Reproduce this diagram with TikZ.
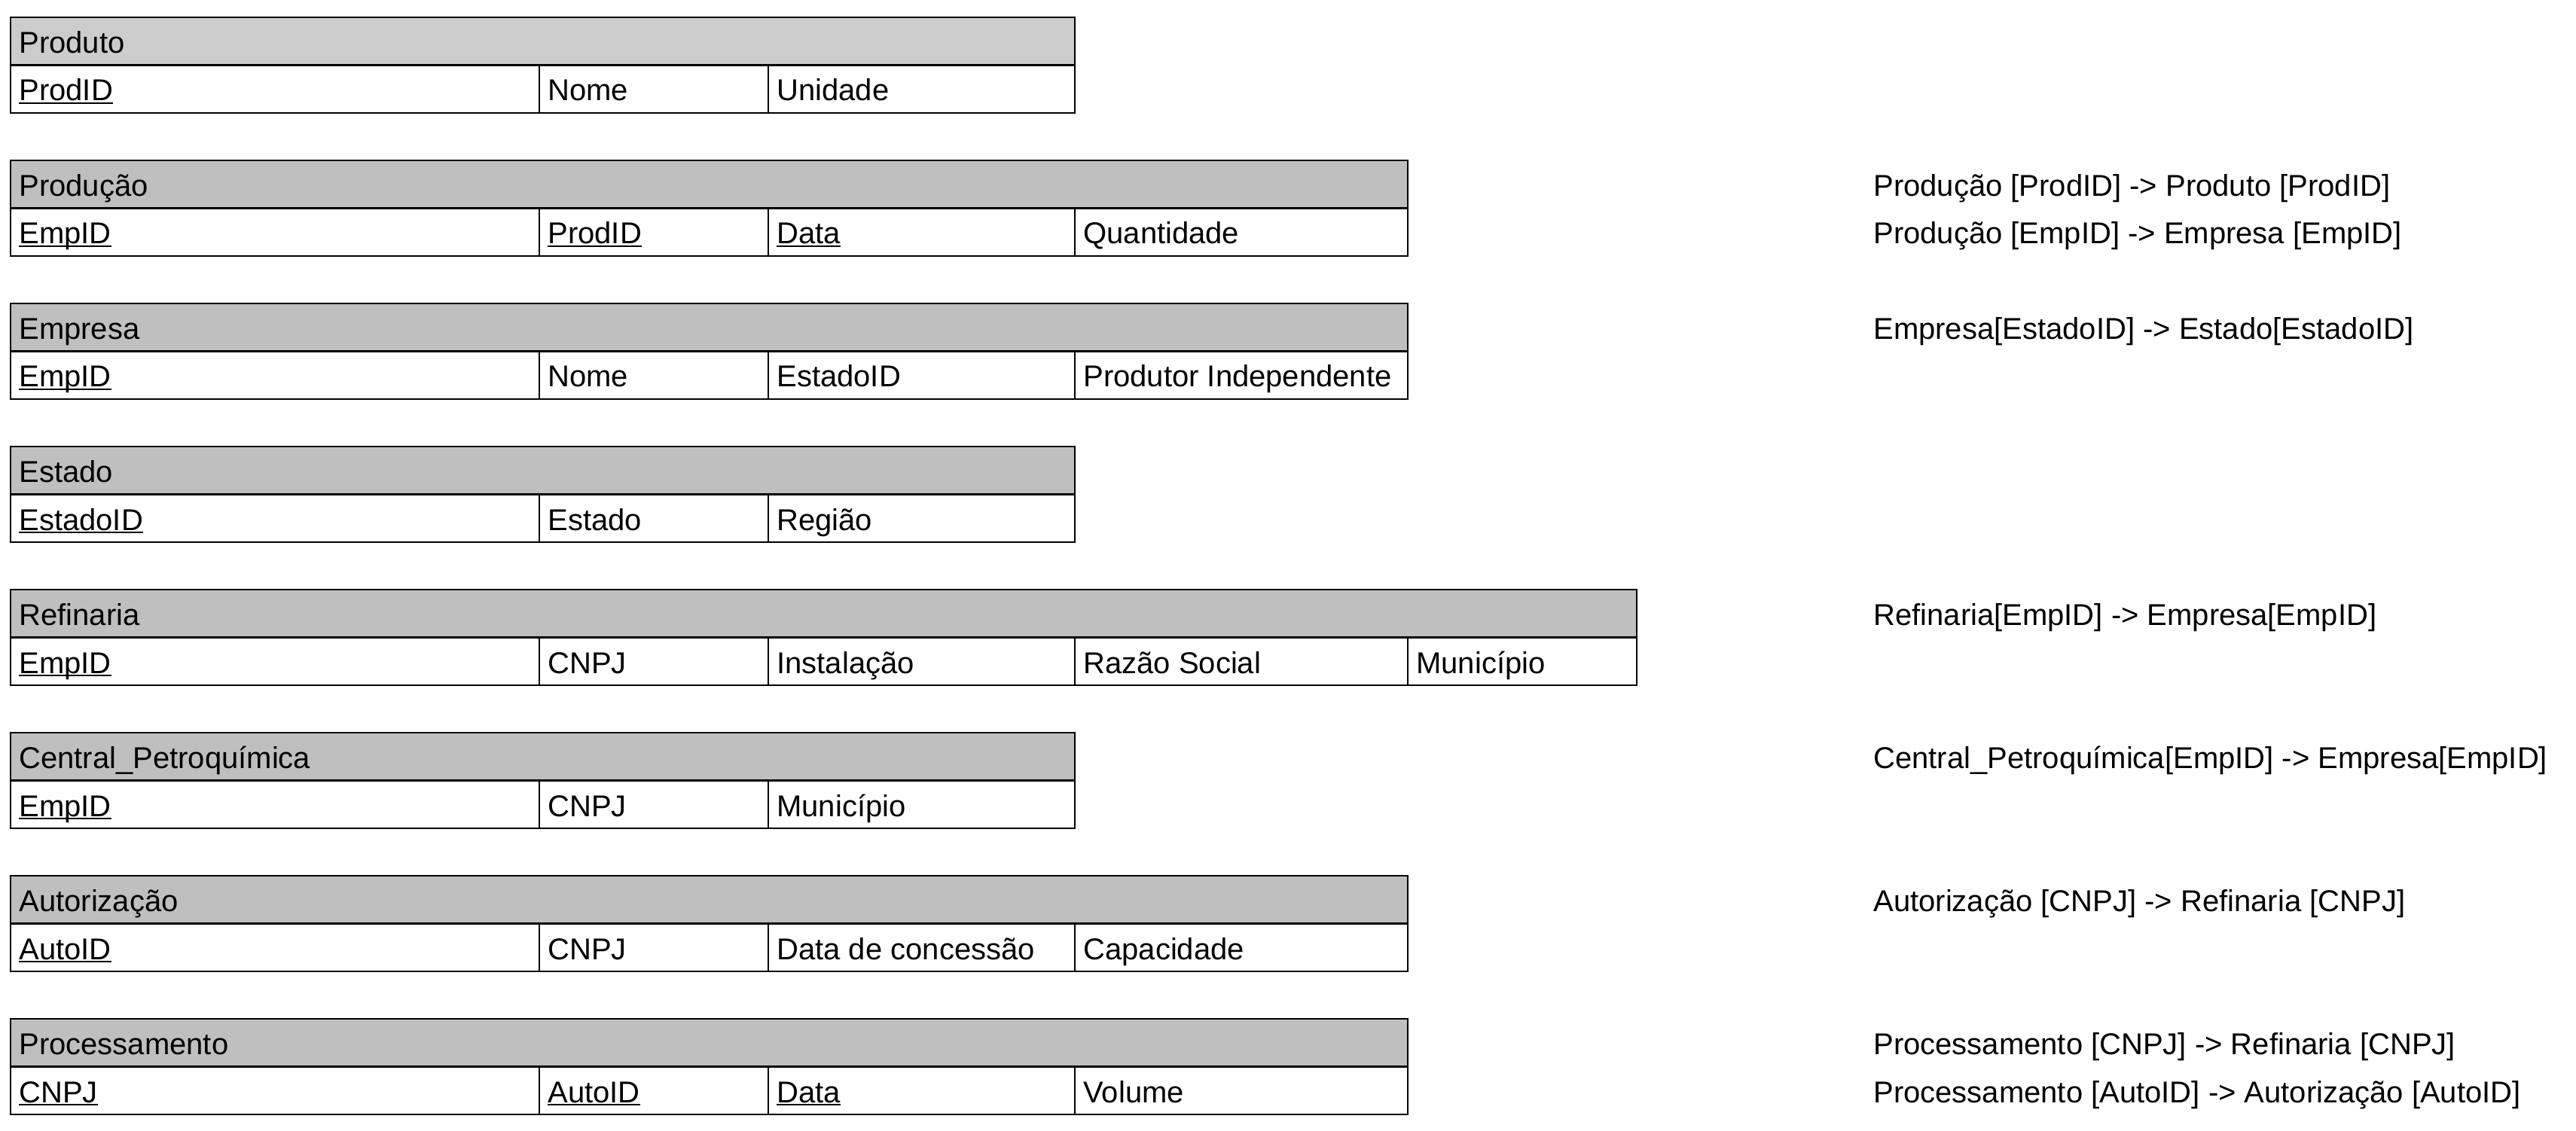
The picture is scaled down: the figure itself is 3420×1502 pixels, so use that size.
\documentclass[tikz,border=0pt]{standalone}
\usepackage{fontspec}
\setmainfont{Liberation Sans}
\definecolor{hdrA}{HTML}{CCCCCC}
\definecolor{hdrB}{HTML}{BFBFBF}
\newcommand\chave[1]{\setbox0\hbox{#1}\rlap{\rule[-2.2pt]{\wd0}{1pt}}\box0}
\tikzset{
  celltxt/.style={anchor=base west, inner sep=0pt, font=\fontsize{20}{23}\selectfont},
  tline/.style={line width=1.1pt, draw=black},
}
% #1 id, #2 top, #3 right, #4 fill colour, #5 title
\newcommand\tabela[5]{%
  \filldraw[tline, fill=#4] (14,#2) rectangle (#3,#2+63.5);
  \draw[tline] (14,#2+63.5) rectangle (#3,#2+127);
  \node[celltxt] (#1-t) at (25,#2+47.5) {#5};
}
% #1 id, #2 top, #3 left x, #4 text
\newcommand\celula[4]{%
  \draw[tline] (#3,#2+63.5) -- (#3,#2+127);
  \node[celltxt] (#1) at (#3+11,#2+111) {#4};
}
\begin{document}
\begin{tikzpicture}[x=0.5pt,y=-0.5pt]
\useasboundingbox (0,0) rectangle (3420,1502);
\fill[white] (0,0) rectangle (3420,1502);

% Produto
\tabela{produto}{23}{1427}{hdrA}{Produto}
\node[celltxt] (produto-1) at (25,23+111) {\chave{ProdID}};
\celula{produto-2}{23}{716}{Nome}
\celula{produto-3}{23}{1020}{Unidade}

% Producao
\tabela{producao}{213}{1869}{hdrB}{Produção}
\node[celltxt] (producao-1) at (25,213+111) {\chave{EmpID}};
\celula{producao-2}{213}{716}{\chave{ProdID}}
\celula{producao-3}{213}{1020}{\chave{Data}}
\celula{producao-4}{213}{1427}{Quantidade}

% Empresa
\tabela{empresa}{403}{1869}{hdrB}{Empresa}
\node[celltxt] (empresa-1) at (25,403+111) {\chave{EmpID}};
\celula{empresa-2}{403}{716}{Nome}
\celula{empresa-3}{403}{1020}{EstadoID}
\celula{empresa-4}{403}{1427}{Produtor Independente}

% Estado
\tabela{estado}{593}{1427}{hdrB}{Estado}
\node[celltxt] (estado-1) at (25,593+111) {\chave{EstadoID}};
\celula{estado-2}{593}{716}{Estado}
\celula{estado-3}{593}{1020}{Região}

% Refinaria
\tabela{refinaria}{783}{2173}{hdrB}{Refinaria}
\node[celltxt] (refinaria-1) at (25,783+111) {\chave{EmpID}};
\celula{refinaria-2}{783}{716}{CNPJ}
\celula{refinaria-3}{783}{1020}{Instalação}
\celula{refinaria-4}{783}{1427}{Razão Social}
\celula{refinaria-5}{783}{1869}{Município}

% Central
\tabela{central}{973}{1427}{hdrB}{Central\_Petroquímica}
\node[celltxt] (central-1) at (25,973+111) {\chave{EmpID}};
\celula{central-2}{973}{716}{CNPJ}
\celula{central-3}{973}{1020}{Município}

% Autorizacao
\tabela{autorizacao}{1163}{1869}{hdrB}{Autorização}
\node[celltxt] (autorizacao-1) at (25,1163+111) {\chave{AutoID}};
\celula{autorizacao-2}{1163}{716}{CNPJ}
\celula{autorizacao-3}{1163}{1020}{Data de concessão}
\celula{autorizacao-4}{1163}{1427}{Capacidade}

% Processamento
\tabela{processamento}{1353}{1869}{hdrB}{Processamento}
\node[celltxt] (processamento-1) at (25,1353+111) {\chave{CNPJ}};
\celula{processamento-2}{1353}{716}{\chave{AutoID}}
\celula{processamento-3}{1353}{1020}{\chave{Data}}
\celula{processamento-4}{1353}{1427}{Volume}

% Foreign keys
\node[celltxt] (fk1) at (2487,213+47.5) {Produção [ProdID] -> Produto [ProdID]};
\node[celltxt] (fk2) at (2487,213+111) {Produção [EmpID] -> Empresa [EmpID]};
\node[celltxt] (fk3) at (2487,403+47.5) {Empresa[EstadoID] -> Estado[EstadoID]};
\node[celltxt] (fk4) at (2487,783+47.5) {Refinaria[EmpID] -> Empresa[EmpID]};
\node[celltxt] (fk5) at (2487,973+47.5) {Central\_Petroquímica[EmpID] -> Empresa[EmpID]};
\node[celltxt] (fk6) at (2487,1163+47.5) {Autorização [CNPJ] -> Refinaria [CNPJ]};
\node[celltxt] (fk7) at (2487,1353+47.5) {Processamento [CNPJ] -> Refinaria [CNPJ]};
\node[celltxt] (fk8) at (2487,1353+111) {Processamento [AutoID] -> Autorização [AutoID]};
\end{tikzpicture}
\end{document}
